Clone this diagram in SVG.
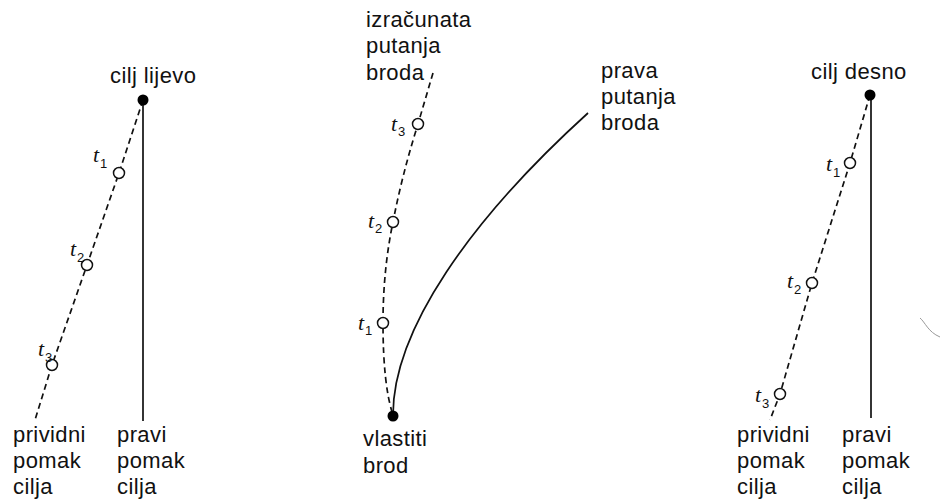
<svg xmlns="http://www.w3.org/2000/svg" width="941" height="502" viewBox="0 0 941 502">
<style>
.lbl{font-family:"Liberation Sans",Arial,sans-serif;font-size:22px;letter-spacing:0.4px;fill:#111}
.t{font-family:"Liberation Serif","Liberation Sans",serif;font-style:italic;font-size:22px;fill:#111}
.sub{font-family:"Liberation Sans",Arial,sans-serif;font-size:13px;fill:#111}
.dash{fill:none;stroke:#111;stroke-width:1.7;stroke-dasharray:6 4}
.solid{fill:none;stroke:#111;stroke-width:1.7}
.open{fill:#fff;stroke:#111;stroke-width:1.5}
.dot{fill:#000}
</style>
<rect width="941" height="502" fill="#fff"/>
<g id="connectors">
<polyline class="dash" points="143,100 119,173 87,265 52,365 35,420"/>
<line class="solid" x1="143" y1="100" x2="143" y2="421"/>
<path class="dash" d="M433,73 L418,124 Q402,175 393,222 Q383,270 383,323 Q383,385 393,415"/>
<path class="solid" d="M393,415 C393,330 470,220 588,113"/>
<polyline class="dash" points="870,95 850,163 812,283 780,394 770,420"/>
<line class="solid" x1="871" y1="95" x2="871" y2="418"/>
<path d="M920,318 C925,322 928,332 940,337" fill="none" stroke="#999" stroke-width="1"/>
</g>
<g id="cilj-lijevo">
<circle class="dot" cx="143" cy="100" r="5.5"/>
<text class="lbl" x="110" y="83">cilj lijevo</text>
</g>
<g id="left-t1"><circle class="open" cx="119" cy="173" r="5.5"/><text class="t" x="93" y="162">t</text><text class="sub" x="100" y="168">1</text></g>
<g id="left-t2"><circle class="open" cx="87" cy="265" r="5.5"/><text class="t" x="70" y="256">t</text><text class="sub" x="77" y="262">2</text></g>
<g id="left-t3"><circle class="open" cx="52" cy="365" r="5.5"/><text class="t" x="38" y="356">t</text><text class="sub" x="45" y="362">3</text></g>
<g id="left-prividni"><text class="lbl" x="13" y="442">prividni</text><text class="lbl" x="13" y="468">pomak</text><text class="lbl" x="13" y="494">cilja</text></g>
<g id="left-pravi"><text class="lbl" x="117" y="442">pravi</text><text class="lbl" x="117" y="468">pomak</text><text class="lbl" x="117" y="494">cilja</text></g>
<g id="izracunata"><text class="lbl" x="366" y="27">izračunata</text><text class="lbl" x="366" y="53">putanja</text><text class="lbl" x="366" y="80">broda</text></g>
<g id="mid-t3"><circle class="open" cx="418" cy="124" r="5.5"/><text class="t" x="391" y="131">t</text><text class="sub" x="398" y="136">3</text></g>
<g id="mid-t2"><circle class="open" cx="393" cy="222" r="5.5"/><text class="t" x="368" y="228">t</text><text class="sub" x="375" y="233">2</text></g>
<g id="mid-t1"><circle class="open" cx="383" cy="323" r="5.5"/><text class="t" x="358" y="330">t</text><text class="sub" x="365" y="335">1</text></g>
<g id="vlastiti-brod"><circle class="dot" cx="393" cy="416" r="5.5"/><text class="lbl" x="363" y="446">vlastiti</text><text class="lbl" x="363" y="473">brod</text></g>
<g id="prava-putanja"><text class="lbl" x="601" y="78">prava</text><text class="lbl" x="601" y="104">putanja</text><text class="lbl" x="601" y="130">broda</text></g>
<g id="cilj-desno">
<circle class="dot" cx="870" cy="95" r="5.5"/>
<text class="lbl" x="811" y="79">cilj desno</text>
</g>
<g id="right-t1"><circle class="open" cx="850" cy="163" r="5.5"/><text class="t" x="826" y="171">t</text><text class="sub" x="833" y="177">1</text></g>
<g id="right-t2"><circle class="open" cx="812" cy="283" r="5.5"/><text class="t" x="787" y="288">t</text><text class="sub" x="794" y="294">2</text></g>
<g id="right-t3"><circle class="open" cx="780" cy="394" r="5.5"/><text class="t" x="755" y="402">t</text><text class="sub" x="762" y="408">3</text></g>
<g id="right-prividni"><text class="lbl" x="737" y="442">prividni</text><text class="lbl" x="737" y="468">pomak</text><text class="lbl" x="737" y="494">cilja</text></g>
<g id="right-pravi"><text class="lbl" x="842" y="442">pravi</text><text class="lbl" x="842" y="468">pomak</text><text class="lbl" x="842" y="494">cilja</text></g>
</svg>
